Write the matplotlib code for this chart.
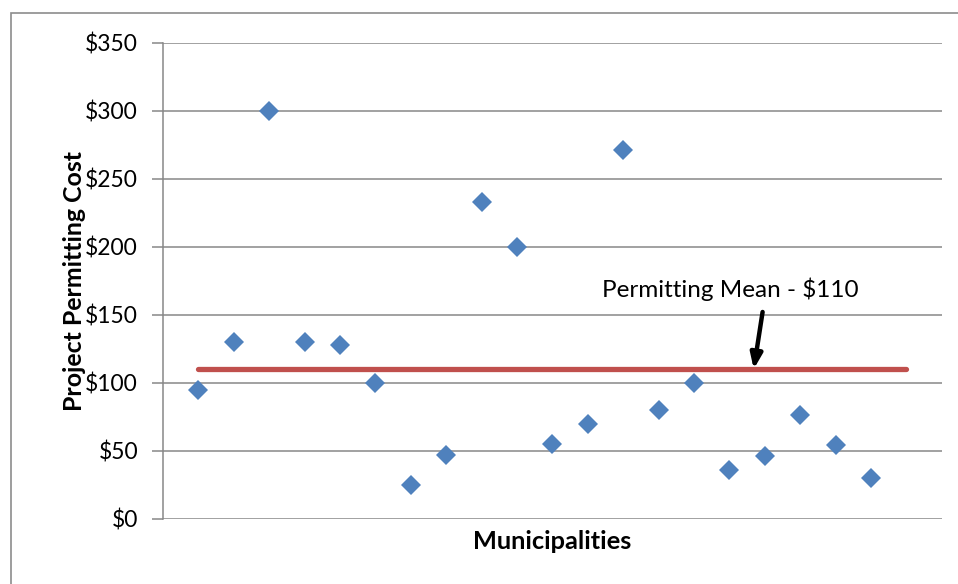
import matplotlib
matplotlib.use("Agg")
import matplotlib.pyplot as plt
from matplotlib.patches import Rectangle

# Permitting cost per municipality (USD)
municipality_idx = list(range(1, 21))
permit_cost = [95, 130, 300, 130, 128, 100, 25, 47, 233, 200,
               55, 70, 271, 80, 100, 36, 46, 76, 54, 30]

mean_cost = 110
mean_span = [1, 21]
y_ticks = [0, 50, 100, 150, 200, 250, 300, 350]
y_tick_labels = [f"${v}" for v in y_ticks]

plt.rcParams['font.family'] = ['Lato', 'DejaVu Sans']

fig = plt.figure(figsize=(9.58, 5.84), dpi=100)
ax = fig.add_axes([0.1701, 0.1118, 0.983 - 0.1701, 0.9269 - 0.1118])

grid_color = '#878787'

# chart frame
fig.patches.append(Rectangle((11 / 958, -0.05), 1.2, 1 - 13 / 584 + 0.05,
                             transform=fig.transFigure, fill=False,
                             edgecolor='#8c8c8c', linewidth=1.2))

ax.set_xlim(0, 22)
ax.set_ylim(0, 350)
ax.set_yticks(y_ticks)
ax.set_yticklabels(y_tick_labels, fontsize=16.5)
ax.set_xticks([])

ax.yaxis.grid(True, color=grid_color, linewidth=1.1)
ax.set_axisbelow(True)
for side in ['top', 'right', 'bottom']:
    ax.spines[side].set_visible(False)
ax.spines['left'].set_color(grid_color)
ax.spines['left'].set_linewidth(1.1)
ax.tick_params(axis='y', direction='out', length=8, width=1.1,
               color=grid_color, pad=10)

ax.plot(mean_span, [mean_cost, mean_cost], color='#C0504D', linewidth=3.8,
        solid_capstyle='round', zorder=2)
ax.plot(municipality_idx, permit_cost, linestyle='none', marker='D',
        markersize=10.5, markerfacecolor='#4F81BD', markeredgewidth=0,
        zorder=3, clip_on=False)

ax.annotate('', xy=(16.69, mean_cost), xytext=(16.94, 152),
            arrowprops=dict(arrowstyle='-|>,head_length=0.9,head_width=0.35',
                            color='black', linewidth=3.2, shrinkA=0, shrinkB=0))
ax.text(16.02, 169, f'Permitting Mean - ${mean_cost}', fontsize=17.5,
        ha='center', va='center')

ax.set_xlabel('Municipalities', fontsize=18.3, fontweight='bold', labelpad=8)
ax.set_ylabel('Project Permitting Cost', fontsize=17.9, fontweight='bold')
ax.yaxis.set_label_coords(-0.099, 0.5)

fig.savefig('out.png', dpi=100)
